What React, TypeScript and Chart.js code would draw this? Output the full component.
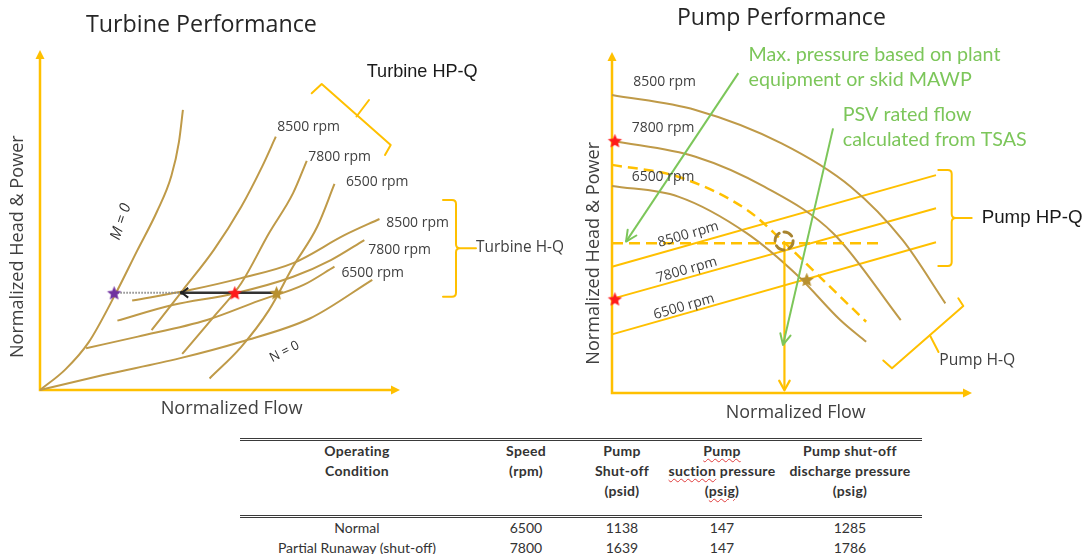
import { useEffect, useRef } from "react";
import { Chart, registerables } from "chart.js";

Chart.register(...registerables);

// ---------- Turbine map (normalized flow %, normalized head & power %) ----------
const turbineZeroTorqueFlow = [0, 7.0, 13.5, 20.8, 27.0, 32.5, 36.5, 38.6, 39.7];
const turbineZeroTorqueHead = [0, 6.0, 14.0, 27.9, 41.0, 52.5, 63.0, 73.0, 82.4];
const turbineZeroSpeedFlow = [0, 17.6, 38.7, 55.9, 75.1, 92.3];
const turbineZeroSpeedHead = [0, 4.4, 9.3, 14.2, 21.1, 32.4];

const turbineHpFlow8500 = [31.0, 39.7, 48.3, 55.9, 61.7, 65.5];
const turbineHp8500 = [17.6, 29.4, 41.2, 53.9, 65.7, 74.5];
const turbineHpFlow7800 = [39.5, 48.3, 55.9, 63.6, 70.3, 74.1];
const turbineHp7800 = [10.6, 21.6, 31.4, 46.1, 57.9, 67.4];
const turbineHpFlow6500 = [47.1, 55.9, 63.6, 70.3, 77.0, 81.8];
const turbineHp6500 = [3.4, 12.7, 23.5, 36.3, 48.0, 60.6];

const turbineHqFlow8500 = [25.6, 41.6, 55.9, 70.3, 84.7, 94.3];
const turbineHq8500 = [26.3, 29.4, 32.9, 37.3, 45.6, 50.3];
const turbineHqFlow7800 = [21.5, 36.8, 54.0, 70.3, 80.8, 90.1];
const turbineHq7800 = [20.4, 25.0, 28.4, 33.3, 38.2, 44.1];
const turbineHqFlow6500 = [12.8, 27.2, 46.4, 60.7, 73.2, 81.8];
const turbineHq6500 = [12.3, 15.7, 20.6, 26.2, 30.9, 36.3];

// operating points on the turbine map
const turbineOpHead = 28.6;
const turbineRunawayFlow = 20.6;
const turbineShutoffFlow = 39.4;
const turbinePartialFlow = 54.1;
const turbineNormalFlow = 65.7;

// ---------- Pump map ----------
const pumpHqFlow8500 = [0, 23.2, 47.1, 66.3, 80.7, 92.6];
const pumpHq8500 = [87.4, 83.0, 73.2, 60.5, 44.9, 26.3];
const pumpHqFlow7800 = [0, 23.2, 42.3, 61.5, 80.2];
const pumpHq7800 = [74.0, 69.3, 60.5, 46.8, 21.4];
const pumpHqFlow6500 = [0, 18.4, 37.5, 51.9, 63.4, 70.6];
const pumpHq6500 = [60.7, 57.6, 46.8, 34.1, 21.4, 15.0];
const pumpLimitFlow = [0, 18.4, 37.5, 47.1, 56.7, 70.6];
const pumpLimitHead = [66.9, 63.4, 53.7, 44.9, 35.1, 20.9];

const pumpHpFlow = [0, 90];
const pumpHp8500 = [37.0, 63.9];
const pumpHp7800 = [27.6, 54.2];
const pumpHp6500 = [17.2, 44.2];

const pumpMaxPressure = 43.9;
const pumpMaxPressureEndFlow = 75.4;
const pumpReliefFlow = 47.9;
const pumpReliefCircle = { x: 47.8, y: 44.6 };
const pumpShutoffHeads = [74.0, 27.6];
const pumpNormalPoint = { x: 54.1, y: 33.3 };

const noteArrowMaxPressureX = [35.1, 3.9];
const noteArrowMaxPressureY = [93.8, 44.4];
const noteArrowRatedFlowX = [61.4, 47.5];
const noteArrowRatedFlowY = [77.6, 14.1];

const rpmLabels = ["8500 rpm", "7800 rpm", "6500 rpm"];

// ---------- Table ----------
const tableHeaders = [
  ["Operating", "Condition"],
  ["Speed", "(rpm)"],
  ["Pump", "Shut-off", "(psid)"],
  ["Pump", "suction pressure", "(psig)"],
  ["Pump shut-off", "discharge pressure", "(psig)"],
];
const tableConditions = ["Normal", "Partial Runaway (shut-off)"];
const tableSpeed = [6500, 7800];
const tableShutoff = [1138, 1639];
const tableSuction = [147, 147];
const tableDischarge = [1285, 1786];

const BROWN = "#BF9A48";
const ORANGE = "#FFC000";
const GREEN = "#7CC65A";
const TEXT = "#404040";
const OPEN = '"Open Sans", sans-serif';
const ARIAL = '"Liberation Sans", Arial, sans-serif';
const LATO = "Lato, sans-serif";

type LabelOpts = {
  size?: number;
  width?: number;
  family?: string;
  color?: string;
  align?: CanvasTextAlign;
  rot?: number;
  italic?: boolean;
};

function label(ctx: CanvasRenderingContext2D, s: string, x: number, y: number, o: LabelOpts = {}): number {
  const family = o.family ?? OPEN;
  const prefix = o.italic ? "italic " : "";
  let size = o.size ?? 14;
  if (o.width) {
    ctx.font = `${prefix}20px ${family}`;
    size = (20 * o.width) / ctx.measureText(s).width;
  }
  ctx.save();
  ctx.font = `${prefix}${size}px ${family}`;
  ctx.fillStyle = o.color ?? TEXT;
  ctx.textAlign = o.align ?? "left";
  ctx.textBaseline = "middle";
  ctx.translate(x, y);
  if (o.rot) ctx.rotate((o.rot * Math.PI) / 180);
  ctx.fillText(s, 0, 0);
  ctx.restore();
  return size;
}

function pts(xs: number[], ys: number[]) {
  return xs.map((x, i) => ({ x, y: ys[i] }));
}

function curve(xs: number[], ys: number[], color: string, extra: Record<string, unknown> = {}) {
  return {
    data: pts(xs, ys),
    showLine: true,
    borderColor: color,
    borderWidth: 2,
    pointRadius: 0,
    cubicInterpolationMode: "monotone",
    fill: false,
    clip: false,
    ...extra,
  };
}

function makeStar(color: string, r: number): HTMLCanvasElement {
  const c = document.createElement("canvas");
  const s = Math.ceil(r * 2 + 2);
  c.width = s;
  c.height = s;
  const g = c.getContext("2d")!;
  g.translate(s / 2, s / 2 + r * 0.1);
  g.beginPath();
  for (let i = 0; i < 10; i++) {
    const rad = i % 2 === 0 ? r : r * 0.45;
    const a = -Math.PI / 2 + (i * Math.PI) / 5;
    g.lineTo(Math.cos(a) * rad, Math.sin(a) * rad);
  }
  g.closePath();
  g.fillStyle = color;
  g.fill();
  return c;
}

function star(x: number, y: number, img: HTMLCanvasElement) {
  return { data: [{ x, y }], showLine: false, pointStyle: img, pointRadius: 6, clip: false };
}

function drawAxes(chart: Chart) {
  const { ctx, chartArea: a } = chart;
  ctx.save();
  ctx.strokeStyle = ORANGE;
  ctx.fillStyle = ORANGE;
  ctx.lineWidth = 2.5;
  ctx.beginPath();
  ctx.moveTo(a.left, a.top + 6);
  ctx.lineTo(a.left, a.bottom);
  ctx.lineTo(a.right - 6, a.bottom);
  ctx.stroke();
  tri(ctx, a.left, a.top, 0, -1);
  tri(ctx, a.right, a.bottom, 1, 0);
  ctx.restore();
}

function tri(ctx: CanvasRenderingContext2D, x: number, y: number, dx: number, dy: number) {
  const L = 9;
  const W = 4.5;
  const bx = x - dx * L;
  const by = y - dy * L;
  ctx.beginPath();
  ctx.moveTo(x, y);
  ctx.lineTo(bx - dy * W, by + dx * W);
  ctx.lineTo(bx + dy * W, by - dx * W);
  ctx.closePath();
  ctx.fill();
}

function vHead(ctx: CanvasRenderingContext2D, tx: number, ty: number, fx: number, fy: number, len: number, half: number) {
  const ang = Math.atan2(ty - fy, tx - fx);
  ctx.beginPath();
  ctx.moveTo(tx - len * Math.cos(ang - half), ty - len * Math.sin(ang - half));
  ctx.lineTo(tx, ty);
  ctx.lineTo(tx - len * Math.cos(ang + half), ty - len * Math.sin(ang + half));
  ctx.stroke();
}

function squareBracket(ctx: CanvasRenderingContext2D, x0: number, x1: number, top: number, bottom: number, stubEnd: number) {
  const mid = (top + bottom) / 2;
  const r = 4;
  ctx.beginPath();
  ctx.moveTo(x0, top);
  ctx.lineTo(x1 - r, top);
  ctx.quadraticCurveTo(x1, top, x1, top + r);
  ctx.lineTo(x1, mid - r);
  ctx.quadraticCurveTo(x1, mid, x1 + r, mid);
  ctx.lineTo(stubEnd, mid);
  ctx.moveTo(x1 + r, mid);
  ctx.quadraticCurveTo(x1, mid, x1, mid + r);
  ctx.lineTo(x1, bottom - r);
  ctx.quadraticCurveTo(x1, bottom, x1 - r, bottom);
  ctx.lineTo(x0, bottom);
  ctx.stroke();
}

function polyline(ctx: CanvasRenderingContext2D, p: number[][]) {
  ctx.beginPath();
  ctx.moveTo(p[0][0], p[0][1]);
  for (let i = 1; i < p.length; i++) ctx.lineTo(p[i][0], p[i][1]);
  ctx.stroke();
}

const baseOptions = (padding: { left: number; right: number; top: number; bottom: number }) => ({
  animation: false as const,
  responsive: false,
  events: [] as never[],
  layout: { padding },
  plugins: { legend: { display: false }, tooltip: { enabled: false } },
  scales: {
    x: { type: "linear" as const, min: 0, max: 100, display: false },
    y: { type: "linear" as const, min: 0, max: 100, display: false },
  },
});

function turbineConfig() {
  const purple = makeStar("#7030A0", 7.5);
  const red = makeStar("#FF1A1A", 7.5);
  const gold = makeStar("#B8902E", 7.5);
  const datasets = [
    star(turbineRunawayFlow, turbineOpHead, purple),
    star(turbinePartialFlow, turbineOpHead, red),
    star(turbineNormalFlow, turbineOpHead, gold),
    curve([turbineNormalFlow, turbineShutoffFlow], [turbineOpHead, turbineOpHead], "#333333", { borderWidth: 2.5 }),
    curve([turbineShutoffFlow, turbineRunawayFlow], [turbineOpHead, turbineOpHead], "#8a8a8a", { borderWidth: 2, borderDash: [1.5, 1.5] }),
    curve(turbineZeroTorqueFlow, turbineZeroTorqueHead, BROWN),
    curve(turbineZeroSpeedFlow, turbineZeroSpeedHead, BROWN),
    curve(turbineHpFlow8500, turbineHp8500, BROWN),
    curve(turbineHpFlow7800, turbineHp7800, BROWN),
    curve(turbineHpFlow6500, turbineHp6500, BROWN),
    curve(turbineHqFlow8500, turbineHq8500, BROWN),
    curve(turbineHqFlow7800, turbineHq7800, BROWN),
    curve(turbineHqFlow6500, turbineHq6500, BROWN),
  ];
  const plugin = {
    id: "turbineNotes",
    beforeDatasetsDraw(chart: Chart) {
      drawAxes(chart);
    },
    afterDatasetsDraw(chart: Chart) {
      const ctx = chart.ctx;
      const sx = chart.scales.x;
      const sy = chart.scales.y;
      ctx.save();
      // arrowhead at shut-off point
      const tx = sx.getPixelForValue(turbineShutoffFlow);
      const ty = sy.getPixelForValue(turbineOpHead);
      ctx.strokeStyle = "#222";
      ctx.lineWidth = 2;
      vHead(ctx, tx, ty, tx + 10, ty, 8, 0.65);
      ctx.fillStyle = "#222";
      ctx.beginPath();
      ctx.arc(tx, ty, 2, 0, Math.PI * 2);
      ctx.fill();

      // brackets
      ctx.strokeStyle = ORANGE;
      ctx.lineWidth = 2;
      ctx.lineJoin = "round";
      ctx.lineCap = "round";
      polyline(ctx, [[311.7, 93.3], [321.7, 84], [390.7, 145], [385, 155]]);
      polyline(ctx, [[356.5, 116.5], [369, 100]]);
      squareBracket(ctx, 443, 456, 200, 296.7, 476);

      label(ctx, "Turbine Performance", 86, 25, { width: 231, color: "#262626" });
      label(ctx, "Turbine HP-Q", 366.7, 71.7, { width: 111, family: ARIAL, color: "#1a1a1a" });
      label(ctx, "Turbine H-Q", 476, 248, { width: 88 });

      const rs = label(ctx, rpmLabels[0], 277.3, 126.7, { width: 62.7 });
      label(ctx, rpmLabels[1], 308.3, 156.7, { size: rs });
      label(ctx, rpmLabels[2], 345.9, 181.7, { size: rs });
      label(ctx, rpmLabels[0], 386.2, 222.7, { size: rs });
      label(ctx, rpmLabels[1], 368.3, 250, { size: rs });
      label(ctx, rpmLabels[2], 341.4, 272.7, { size: rs });

      label(ctx, "M = 0", 121, 221.7, { size: 15, italic: true, align: "center", rot: -72, color: "#303030" });
      label(ctx, "N = 0", 284.5, 351.7, { size: 13, align: "center", rot: -27, color: "#303030" });

      label(ctx, "Normalized Flow", 231.6, 409.3, { width: 142, align: "center" });
      label(ctx, "Normalized Head & Power", 18.3, 246.7, { width: 223, align: "center", rot: -90 });
      ctx.restore();
    },
  };
  return {
    type: "scatter" as const,
    data: { datasets },
    options: baseOptions({ left: 40, right: 683, top: 50, bottom: 40 }),
    plugins: [plugin],
  };
}

function pumpConfig() {
  const red = makeStar("#FF1A1A", 7.5);
  const gold = makeStar("#B8902E", 7.5);
  const datasets = [
    star(0.8, pumpShutoffHeads[0], red),
    star(0.8, pumpShutoffHeads[1], red),
    star(pumpNormalPoint.x, pumpNormalPoint.y, gold),
    curve(noteArrowMaxPressureX, noteArrowMaxPressureY, GREEN),
    curve(noteArrowRatedFlowX, noteArrowRatedFlowY, GREEN),
    curve([pumpReliefFlow, pumpReliefFlow], [pumpMaxPressure, 0.8], ORANGE, { borderWidth: 2.2 }),
    curve([0, pumpMaxPressureEndFlow], [pumpMaxPressure, pumpMaxPressure], ORANGE, { borderWidth: 2.5, borderDash: [11, 6] }),
    curve(pumpHqFlow8500, pumpHq8500, BROWN),
    curve(pumpHqFlow7800, pumpHq7800, BROWN),
    curve(pumpHqFlow6500, pumpHq6500, BROWN),
    curve(pumpLimitFlow, pumpLimitHead, ORANGE, { borderWidth: 2.5, borderDash: [10, 6] }),
    curve(pumpHpFlow, pumpHp8500, ORANGE),
    curve(pumpHpFlow, pumpHp7800, ORANGE),
    curve(pumpHpFlow, pumpHp6500, ORANGE),
  ];
  const plugin = {
    id: "pumpNotes",
    beforeDatasetsDraw(chart: Chart) {
      drawAxes(chart);
    },
    afterDatasetsDraw(chart: Chart) {
      const ctx = chart.ctx;
      const sx = chart.scales.x;
      const sy = chart.scales.y;
      const px = (v: number) => sx.getPixelForValue(v);
      const py = (v: number) => sy.getPixelForValue(v);
      ctx.save();
      ctx.lineCap = "round";
      ctx.lineJoin = "round";

      // dashed circle at relief point
      ctx.strokeStyle = "#A8842F";
      ctx.lineWidth = 3;
      ctx.setLineDash([9, 5]);
      ctx.beginPath();
      ctx.arc(px(pumpReliefCircle.x), py(pumpReliefCircle.y), 9, 0, Math.PI * 2);
      ctx.stroke();
      ctx.setLineDash([]);

      // arrowheads
      ctx.strokeStyle = ORANGE;
      ctx.lineWidth = 2.2;
      vHead(ctx, px(pumpReliefFlow), py(0.8), px(pumpReliefFlow), py(pumpMaxPressure), 11, 0.5);
      ctx.strokeStyle = GREEN;
      ctx.lineWidth = 2;
      vHead(ctx, px(noteArrowMaxPressureX[1]), py(noteArrowMaxPressureY[1]), px(noteArrowMaxPressureX[0]), py(noteArrowMaxPressureY[0]), 12, 0.45);
      vHead(ctx, px(noteArrowRatedFlowX[1]), py(noteArrowRatedFlowY[1]), px(noteArrowRatedFlowX[0]), py(noteArrowRatedFlowY[0]), 12, 0.45);

      // brackets
      ctx.strokeStyle = ORANGE;
      ctx.lineWidth = 2;
      squareBracket(ctx, 938.3, 951.7, 170, 266, 971.7);
      polyline(ctx, [[883.3, 360.5], [892, 368.3], [963.3, 306], [958.3, 298.3]]);
      polyline(ctx, [[930, 335.5], [938.5, 352]]);

      label(ctx, "Pump Performance", 676.9, 18.3, { width: 209, color: "#262626" });
      const gs = label(ctx, "Max. pressure based on plant", 748.6, 55, { width: 252, family: LATO, color: GREEN });
      label(ctx, "equipment or skid MAWP", 748.6, 80, { size: gs, family: LATO, color: GREEN });
      label(ctx, "PSV rated flow", 842.8, 115, { size: gs, family: LATO, color: GREEN });
      label(ctx, "calculated from TSAS", 842.8, 140, { size: gs, family: LATO, color: GREEN });

      const rs = label(ctx, rpmLabels[0], 633.3, 81.7, { width: 62.7 });
      label(ctx, rpmLabels[1], 631.7, 128.3, { size: rs });
      label(ctx, rpmLabels[2], 631.7, 176.7, { size: rs });
      label(ctx, rpmLabels[0], 688.3, 234.5, { size: rs, align: "center", rot: -16 });
      label(ctx, rpmLabels[1], 686.7, 270, { size: rs, align: "center", rot: -16 });
      label(ctx, rpmLabels[2], 684, 306.7, { size: rs, align: "center", rot: -16 });

      label(ctx, "Pump HP-Q", 981.7, 218.3, { width: 101, family: ARIAL, color: "#1a1a1a" });
      label(ctx, "Pump H-Q", 939.3, 360.7, { width: 76 });

      label(ctx, "Normalized Flow", 795.7, 412.7, { width: 140, align: "center" });
      label(ctx, "Normalized Head & Power", 593.4, 253.3, { width: 223, align: "center", rot: -90 });
      ctx.restore();
    },
  };
  return {
    type: "scatter" as const,
    data: { datasets },
    options: baseOptions({ left: 612, right: 111, top: 52, bottom: 37 }),
    plugins: [plugin],
  };
}

const colWidths = [234, 104, 88, 112, 144];
const squiggle = { textDecoration: "underline wavy #e03c3c", textDecorationThickness: "1px", textUnderlineOffset: "2px" };

function ConditionsTable() {
  const rows = tableConditions.map((c, i) => [c, tableSpeed[i], tableShutoff[i], tableSuction[i], tableDischarge[i]]);
  const rule = "3px double #3a3a3a";
  return (
    <div style={{ position: "absolute", left: 240, top: 438, width: 682, fontFamily: LATO, fontSize: 14, color: "#333" }}>
      <div style={{ display: "flex", borderTop: rule, borderBottom: rule, height: 74, fontWeight: 700, lineHeight: "20px", letterSpacing: "0.3px" }}>
        {tableHeaders.map((h, ci) => (
          <div key={ci} style={{ width: colWidths[ci], textAlign: "center", whiteSpace: "nowrap" }}>
            {h.map((line, li) => {
              let content: React.ReactNode = line;
              if (ci === 3 && li === 0) content = <span style={squiggle}>Pump</span>;
              if (ci === 3 && li === 1) content = (<><span style={squiggle}>suction</span> pressure</>);
              if (ci === 3 && li === 2) content = (<>(<span style={squiggle}>psig</span>)</>);
              return <div key={li}>{content}</div>;
            })}
          </div>
        ))}
      </div>
      {rows.map((r, ri) => (
        <div key={ri} style={{ display: "flex", height: 19.5, lineHeight: "19.5px" }}>
          {r.map((v, ci) => (
            <div key={ci} style={{ width: colWidths[ci], textAlign: "center", whiteSpace: "nowrap" }}>{v}</div>
          ))}
        </div>
      ))}
    </div>
  );
}

export default function App() {
  const turbineRef = useRef<HTMLCanvasElement>(null);
  const pumpRef = useRef<HTMLCanvasElement>(null);
  useEffect(() => {
    const turbine = new Chart(turbineRef.current!, turbineConfig() as any);
    const pump = new Chart(pumpRef.current!, pumpConfig() as any);
    return () => {
      turbine.destroy();
      pump.destroy();
    };
  }, []);
  return (
    <div style={{ position: "absolute", left: 0, top: 0, width: 1083, height: 554, background: "#fff", overflow: "hidden" }}>
      <canvas ref={turbineRef} width={1083} height={430} style={{ position: "absolute", left: 0, top: 0 }} />
      <canvas ref={pumpRef} width={1083} height={430} style={{ position: "absolute", left: 0, top: 0 }} />
      <ConditionsTable />
    </div>
  );
}
